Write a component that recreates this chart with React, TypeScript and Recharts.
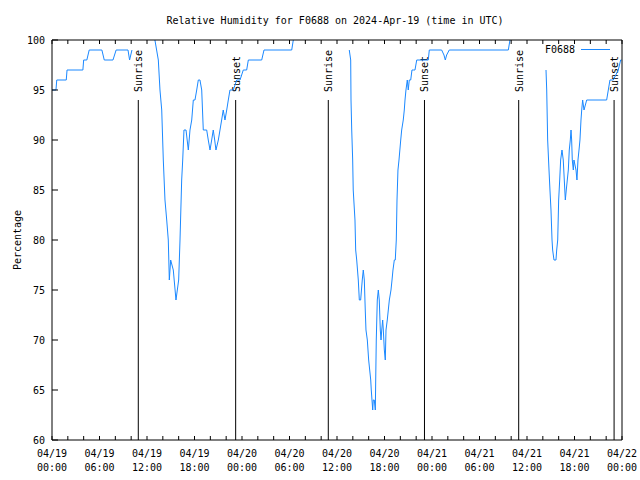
import React from "react";
import {
  LineChart,
  Line,
  XAxis,
  YAxis,
  ReferenceLine,
  Customized,
} from "recharts";

// Time (hours since 2024-04-19 00:00 UTC)
const hours: number[] = [
  0.0, 0.5, 0.6, 1.8, 1.9, 3.9, 4.0, 4.4, 4.7, 6.3, 6.6, 7.7, 8.1, 9.6, 9.8, 10.1, 10.5,
  12.9, 13.0, 13.43, 13.64, 13.86, 14.06, 14.27, 14.49, 14.69, 14.82, 14.99, 15.32, 15.66,
  15.83, 16.0, 16.17, 16.38, 16.51, 16.67, 16.93, 17.22, 17.43, 17.65, 17.85, 18.06, 18.28,
  18.48, 18.69, 18.91, 19.11, 19.33, 19.54, 19.74, 19.96, 20.17, 20.37, 20.55, 20.71, 21.01,
  21.22, 21.43, 21.63, 21.85, 22.07, 22.27, 22.48, 22.9, 23.33, 23.75, 24.16, 24.59, 24.8,
  26.49, 26.78, 30.28, 30.48, 30.7,
  37.4, 37.55, 37.73, 37.77, 37.86, 37.98, 38.05, 38.27, 38.36, 38.49, 38.69, 38.82, 38.99,
  39.19, 39.32, 39.45, 39.57, 39.66, 39.83, 40.0, 40.13, 40.26, 40.33, 40.42, 40.51, 40.58,
  40.71, 40.84, 40.89, 40.96, 41.09, 41.22, 41.34, 41.47, 41.56, 41.65, 41.77, 41.85, 41.98,
  42.1, 42.19, 42.35, 42.48, 42.61, 42.82, 42.95, 43.07, 43.24, 43.36, 43.49, 43.58, 43.7,
  43.83, 44.05, 44.17, 44.37, 44.5, 44.59, 44.71, 44.88, 45.0, 45.13, 45.31, 45.47, 45.64,
  45.85, 46.07, 47.53, 47.66, 49.22, 49.51, 49.68, 49.85, 50.18, 57.64, 57.85, 58.0,
  62.3, 62.4, 62.49, 62.61, 62.78, 62.9, 63.03, 63.16, 63.24, 63.41, 63.66, 63.75, 63.88,
  64.0, 64.13, 64.25, 64.42, 64.58, 64.71, 64.84, 64.96, 65.09, 65.22, 65.34, 65.47, 65.56,
  65.64, 65.72, 65.85, 65.93, 66.19, 66.31, 66.44, 66.57, 66.69, 66.82, 66.91, 67.03, 67.2,
  67.54, 70.06, 70.27, 70.48, 70.9, 71.53, 71.83, 71.95,
];

// Relative humidity (%), null = no plotted value
const humidity: (number | null)[] = [
  95, 95, 96, 96, 97, 97, 98, 98, 99, 99, 98, 98, 99, 99, 98, 99, null,
  null, 100, 98, 95, 93, 88, 84, 82, 80, 76, 78, 77, 74,
  75, 76, 80, 86, 88, 91, 91, 89, 91, 92, 94, 94, 95,
  96, 96, 95, 91, 91, 91, 90, 89, 90, 91, 90, 89, 90,
  91, 92, 93, 92, 93, 94, 95, 95, 96, 96, 97, 97, 98,
  98, 99, 99, 100, null,
  null, 99, 98, 94, 91, 88, 85, 82, 79, 78, 76, 74, 74,
  76, 77, 76, 73, 71, 70, 68, 67, 66, 65, 64, 63, 64,
  64, 63, 66, 70, 74, 75, 74, 71, 70, 71, 72, 71, 69,
  68, 71, 72, 73, 74, 75, 76, 77, 78, 78, 80, 84, 87,
  88, 90, 91, 92, 93, 94, 95, 96, 95, 96, 96, 97, 97,
  97, 98, 98, 99, 99, 98.5, 98, 98.5, 99, 99, 100, null,
  null, 97, 95, 90, 87, 85, 83, 80, 79, 78, 78, 79, 80,
  84, 86, 88, 89, 88, 86, 84, 85, 86, 87, 89, 90, 91,
  90, 88, 87, 88, 87, 86, 88, 89, 90, 92, 93, 94, 93,
  94, 94, 95, 96, 96, 97, 98, 98,
];

const sunriseHours: number[] = [10.9, 34.9, 58.95];
const sunsetHours: number[] = [23.2, 47.05, 71.0];

const xTicks: number[] = [0, 2, 4, 6, 8, 10, 12, 14, 16, 18, 20, 22, 24, 26, 28, 30, 32, 34, 36, 38, 40, 42, 44, 46, 48, 50, 52, 54, 56, 58, 60, 62, 64, 66, 68, 70, 72];
const xLabelDates: string[] = ["04/19", "04/19", "04/19", "04/19", "04/20", "04/20", "04/20", "04/20", "04/21", "04/21", "04/21", "04/21", "04/22"];
const xLabelTimes: string[] = ["00:00", "06:00", "12:00", "18:00", "00:00", "06:00", "12:00", "18:00", "00:00", "06:00", "12:00", "18:00", "00:00"];
const yTicks: number[] = [60, 65, 70, 75, 80, 85, 90, 95, 100];

const seriesName = "F0688";
const titleText = "Relative Humidity for F0688 on 2024-Apr-19 (time in UTC)";
const yLabelText = "Percentage";

const data = hours.map((h, i) => ({ h, rh: humidity[i] }));

const FONT = "'DejaVu Sans Mono', 'Liberation Mono', monospace";
const LINE_COLOR = "#1a88ff";

const XTick = (props: any) => {
  const { x, y, payload } = props;
  const v = payload.value as number;
  if (v % 6 !== 0) return <g />;
  const idx = v / 6;
  return (
    <text x={x} y={y} textAnchor="middle" fontFamily={FONT} fontSize={10} fill="#000">
      <tspan x={x} dy={11}>{xLabelDates[idx]}</tspan>
      <tspan x={x} dy={14}>{xLabelTimes[idx]}</tspan>
    </text>
  );
};

const SunLabel = (text: string) => (props: any) => {
  const vb = props.viewBox || {};
  const x = (vb.x ?? 0) + 4;
  const y = (vb.y ?? 0) - 8;
  return (
    <text
      x={x}
      y={y}
      transform={`rotate(-90 ${x} ${y})`}
      textAnchor="start"
      fontFamily={FONT}
      fontSize={10}
      fill="#000"
    >
      {text}
    </text>
  );
};

const Titles = () => (
  <g>
    <text x={335} y={24} textAnchor="middle" fontFamily={FONT} fontSize={10} fill="#000">
      {titleText}
    </text>
    <text
      x={21}
      y={240}
      transform="rotate(-90 21 240)"
      textAnchor="middle"
      fontFamily={FONT}
      fontSize={10}
      fill="#000"
    >
      {yLabelText}
    </text>
    <text x={575} y={53} textAnchor="end" fontFamily={FONT} fontSize={10} fill="#000">
      {seriesName}
    </text>
    <line x1={581} y1={49.5} x2={610} y2={49.5} stroke={LINE_COLOR} strokeWidth={1} />
  </g>
);

export default function App() {
  return (
    <div style={{ position: "absolute", left: 0, top: 0, width: 640, height: 480, background: "#fff" }}>
      <LineChart
        width={640}
        height={480}
        data={data}
        margin={{ top: 39, right: 17, bottom: 0, left: 0 }}
      >
        <XAxis
          dataKey="h"
          type="number"
          domain={[0, 72]}
          ticks={xTicks}
          interval={0}
          allowDataOverflow
          height={40}
          tickSize={-4}
          tickMargin={10}
          tick={<XTick />}
          stroke="#000"
        />
        <XAxis
          xAxisId="top"
          orientation="top"
          dataKey="h"
          type="number"
          domain={[0, 72]}
          ticks={xTicks}
          interval={0}
          height={1}
          tickSize={-4}
          tick={() => <g />}
          stroke="#000"
        />
        <YAxis
          type="number"
          domain={[60, 100]}
          ticks={yTicks}
          interval={0}
          allowDataOverflow
          width={52}
          tickSize={-6}
          tickMargin={13}
          tick={{ fontFamily: FONT, fontSize: 10, fill: "#000" }}
          stroke="#000"
        />
        <YAxis
          yAxisId="right"
          orientation="right"
          type="number"
          domain={[60, 100]}
          ticks={yTicks}
          interval={0}
          width={1}
          tickSize={-6}
          tick={() => <g />}
          stroke="#000"
        />
        {sunriseHours.map((h, i) => (
          <ReferenceLine
            key={`sr${i}`}
            segment={[{ x: h, y: 60 }, { x: h, y: 94 }]}
            stroke="#000"
            strokeWidth={1}
            label={SunLabel("Sunrise")}
          />
        ))}
        {sunsetHours.map((h, i) => (
          <ReferenceLine
            key={`ss${i}`}
            segment={[{ x: h, y: 60 }, { x: h, y: 94 }]}
            stroke="#000"
            strokeWidth={1}
            label={SunLabel("Sunset")}
          />
        ))}
        <Line
          type="linear"
          dataKey="rh"
          name={seriesName}
          stroke={LINE_COLOR}
          strokeWidth={1}
          dot={false}
          activeDot={false}
          connectNulls={false}
          isAnimationActive={false}
        />
        <Customized component={<Titles />} />
      </LineChart>
    </div>
  );
}
